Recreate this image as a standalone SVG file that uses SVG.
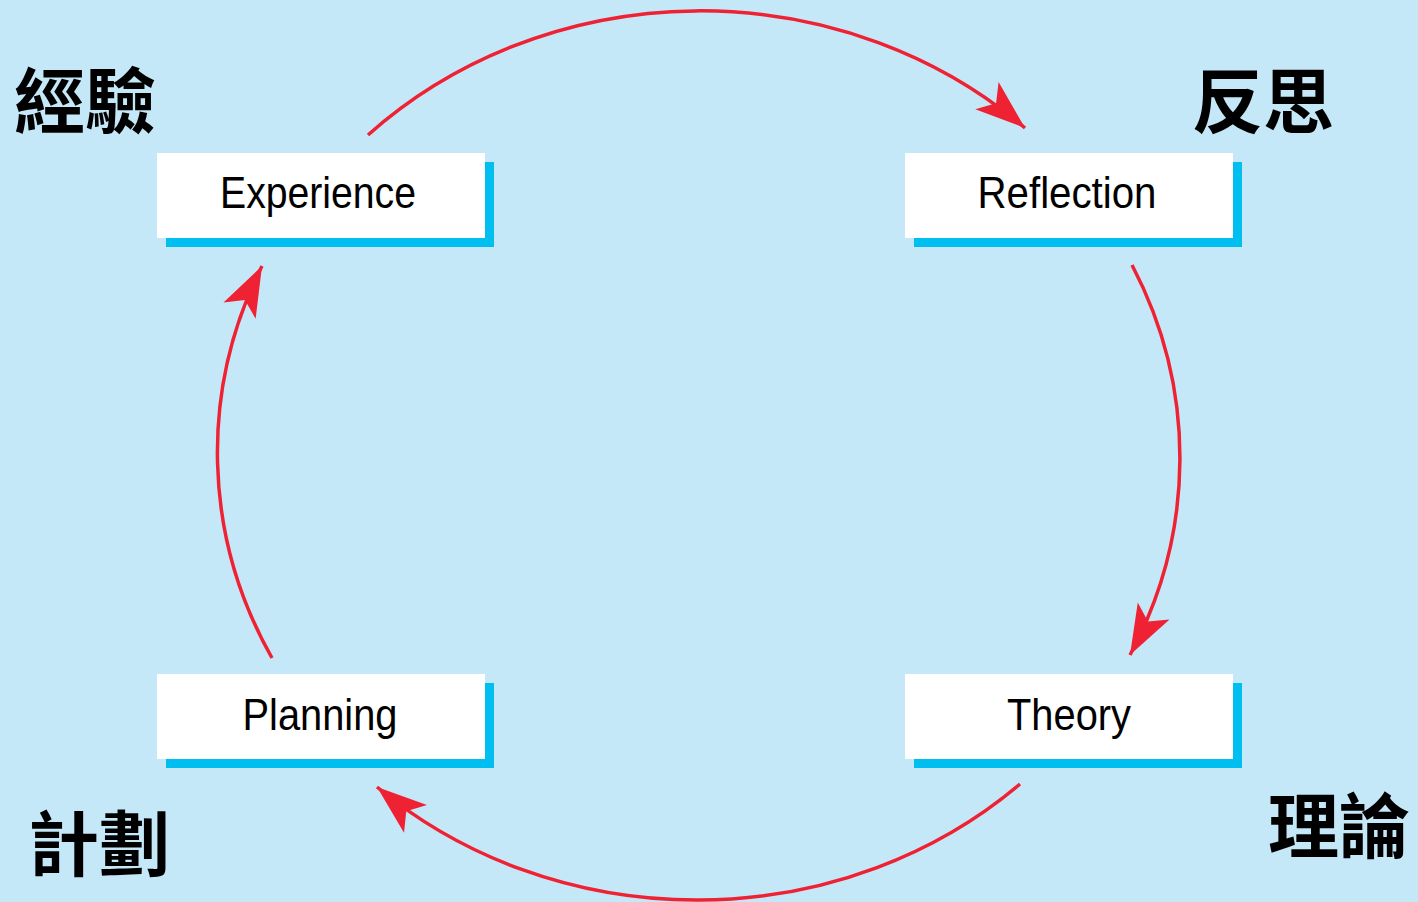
<svg xmlns="http://www.w3.org/2000/svg" width="1418" height="902" viewBox="0 0 1418 902">
<style>
.box{fill:#ffffff}
.shadow{fill:#00BFF0}
.lbl{font-family:"Liberation Sans",Arial,sans-serif;font-size:44px;fill:#000;text-anchor:middle}
.cjk{font-family:"Noto Sans CJK TC","Noto Sans CJK SC",sans-serif;font-size:71px;font-weight:bold;fill:#000}
.arc{fill:none;stroke:#EE2233;stroke-width:3.5}
</style>
<defs>
<marker id="ah" markerUnits="userSpaceOnUse" markerWidth="60" markerHeight="50" viewBox="-50 -25 60 50" refX="0" refY="0" orient="auto">
<path d="M0,0 L-50,-18 L-38,0 L-50,18 Z" fill="#EE2233"/>
</marker>
</defs>
<rect width="1418" height="902" fill="#C5E8F8"/>
<g id="connectors">
<path class="arc" d="M368,135 A479,443 0 0 1 1025,128" marker-end="url(#ah)"/>
<path class="arc" d="M1132,265 A479,443 0 0 1 1130,655" marker-end="url(#ah)"/>
<path class="arc" d="M1020,784 A479,443 0 0 1 377,787" marker-end="url(#ah)"/>
<path class="arc" d="M272,658 A479,443 0 0 1 262,266" marker-end="url(#ah)"/>
</g>
<g id="experience">
<rect class="shadow" x="166" y="162" width="328" height="85"/>
<rect class="box" x="157" y="153" width="328" height="85"/>
<text class="lbl" x="318" y="208" textLength="196" lengthAdjust="spacingAndGlyphs">Experience</text>
</g>
<g id="reflection">
<rect class="shadow" x="914" y="162" width="328" height="85"/>
<rect class="box" x="905" y="153" width="328" height="85"/>
<text class="lbl" x="1067" y="208" textLength="179" lengthAdjust="spacingAndGlyphs">Reflection</text>
</g>
<g id="planning">
<rect class="shadow" x="166" y="683" width="328" height="85"/>
<rect class="box" x="157" y="674" width="328" height="85"/>
<text class="lbl" x="320" y="730" textLength="155" lengthAdjust="spacingAndGlyphs">Planning</text>
</g>
<g id="theory">
<rect class="shadow" x="914" y="683" width="328" height="85"/>
<rect class="box" x="905" y="674" width="328" height="85"/>
<text class="lbl" x="1069" y="730" textLength="124" lengthAdjust="spacingAndGlyphs">Theory</text>
</g>
<g id="labels-cjk">
<text class="cjk" x="14" y="127">經驗</text>
<text class="cjk" x="1192" y="127">反思</text>
<text class="cjk" x="28" y="870">計劃</text>
<text class="cjk" x="1268" y="852">理論</text>
</g>
</svg>
